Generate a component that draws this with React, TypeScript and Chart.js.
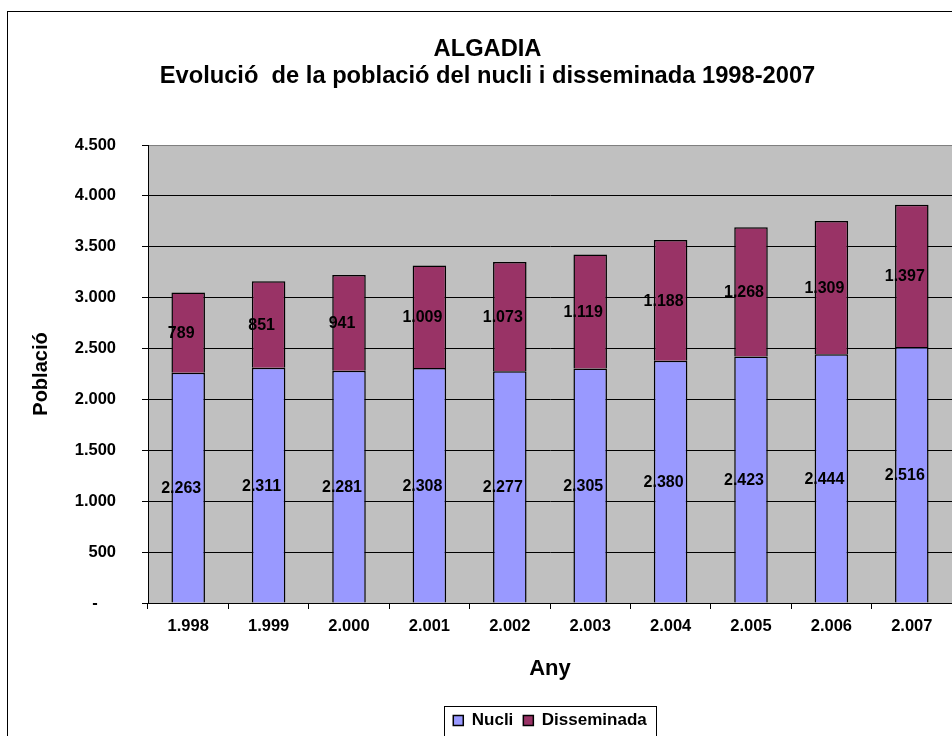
import React, { useEffect, useRef } from "react";
import { Chart, registerables } from "chart.js";

Chart.register(...registerables);

const years = ["1.998", "1.999", "2.000", "2.001", "2.002", "2.003", "2.004", "2.005", "2.006", "2.007"];
const nucli = [2263, 2311, 2281, 2308, 2277, 2305, 2380, 2423, 2444, 2516];
const disseminada = [789, 851, 941, 1009, 1073, 1119, 1188, 1268, 1309, 1397];
const yMin = 0;
const yMax = 4500;
const yStep = 500;
const titleLines = ["ALGADIA", "Evolució  de la població del nucli i disseminada 1998-2007"];
const yTitle = "Població";
const xTitle = "Any";
const seriesNames = ["Nucli", "Disseminada"];

const FONT = "'Liberation Sans', Arial, sans-serif";
const W = 975;
const H = 739;
const PAD_SIDE = 23;

function fmt(n: number): string {
  return Math.round(n).toString().replace(/\B(?=(\d{3})+(?!\d))/g, ".");
}

const framePlugin = {
  id: "frameBg",
  beforeDraw(chart: any) {
    const { ctx, chartArea } = chart;
    ctx.save();
    ctx.strokeStyle = "#000";
    ctx.lineWidth = 1;
    ctx.strokeRect(7.5, 11.5, chart.width - 15, chart.height + 20);
    ctx.fillStyle = "#C0C0C0";
    ctx.fillRect(chartArea.left, chartArea.top, chartArea.right - chartArea.left, chartArea.bottom - chartArea.top);
    ctx.strokeStyle = "#808080";
    ctx.strokeRect(chartArea.left + 0.5, chartArea.top + 0.5, chartArea.right - chartArea.left, chartArea.bottom - chartArea.top);
    ctx.restore();
  },
};

const labelPlugin = {
  id: "barLabels",
  afterDatasetsDraw(chart: any) {
    const { ctx } = chart;
    ctx.save();
    ctx.font = `bold 16px ${FONT}`;
    ctx.fillStyle = "#000";
    ctx.textAlign = "center";
    ctx.textBaseline = "middle";
    chart.data.datasets.forEach((ds: any, di: number) => {
      const meta = chart.getDatasetMeta(di);
      meta.data.forEach((bar: any, i: number) => {
        const p = bar.getProps(["x", "y", "base"], true);
        const cy = (p.y + p.base) / 2;
        ctx.fillText(fmt(ds.data[i]), p.x - 7, cy + 1);
      });
    });
    ctx.restore();
  },
};

const legendBoxPlugin = {
  id: "legendBox",
  afterDraw(chart: any) {
    const lg = chart.legend;
    if (!lg || !lg.legendHitBoxes || !lg.legendHitBoxes.length) return;
    const hb = lg.legendHitBoxes;
    const first = hb[0];
    const last = hb[hb.length - 1];
    const left = Math.round(first.left - 9) + 0.5;
    const right = Math.round(last.left + last.width + 9) + 0.5;
    const top = Math.round(first.top - 6) + 0.5;
    const { ctx } = chart;
    ctx.save();
    ctx.strokeStyle = "#000";
    ctx.lineWidth = 1;
    ctx.strokeRect(left, top, right - left, 60);
    ctx.restore();
  },
};

export default function App() {
  const ref = useRef<HTMLCanvasElement | null>(null);

  useEffect(() => {
    if (!ref.current) return;
    Chart.defaults.font.family = FONT;
    Chart.defaults.color = "#000";
    const chart = new Chart(ref.current, {
      type: "bar",
      data: {
        labels: years,
        datasets: [
          {
            label: seriesNames[0],
            data: nucli,
            backgroundColor: "#9999FF",
            borderColor: "#000",
            borderWidth: 1.5,
            stack: "s",
          },
          {
            label: seriesNames[1],
            data: disseminada,
            backgroundColor: "#993366",
            borderColor: "#000",
            borderWidth: 1.5,
            stack: "s",
          },
        ],
      },
      options: {
        animation: false,
        responsive: false,
        devicePixelRatio: 1,
        layout: { padding: { left: PAD_SIDE, right: PAD_SIDE, top: 0, bottom: 0 } },
        datasets: {
          bar: { categoryPercentage: 1, barPercentage: 0.417 },
        },
        plugins: {
          title: {
            display: true,
            text: titleLines,
            font: { size: 23.7, weight: "bold", lineHeight: 1.14 },
            color: "#000",
            padding: { top: 36, bottom: 55 },
          },
          legend: {
            display: true,
            position: "bottom",
            fullSize: false,
            labels: {
              boxWidth: 10,
              boxHeight: 10,
              padding: 10,
              color: "#000",
              font: { size: 17, weight: "bold" },
            },
          },
          tooltip: { enabled: false },
        },
        scales: {
          x: {
            stacked: true,
            grid: {
              display: true,
              drawOnChartArea: false,
              drawTicks: true,
              tickLength: 6,
              color: "#000",
              offset: true,
            },
            border: { display: true, color: "#000", width: 1 },
            ticks: {
              padding: 8,
              color: "#000",
              font: { size: 16.5, weight: "bold" },
              maxRotation: 0,
              autoSkip: false,
            },
            title: {
              display: true,
              text: xTitle,
              color: "#000",
              font: { size: 22, weight: "bold", lineHeight: 1.2 },
              padding: { top: 0, bottom: 20 },
            },
            afterFit: (s: any) => {
              s.height = 99;
            },
          },
          y: {
            stacked: true,
            min: yMin,
            max: yMax,
            grid: {
              color: (c: any) => (c.tick && c.tick.value === yMax ? "#808080" : "#000"),
              tickColor: "#000",
              tickLength: 6,
              lineWidth: 1,
            },
            border: { display: true, color: "#000", width: 1 },
            ticks: {
              stepSize: yStep,
              padding: 26,
              color: "#000",
              font: { size: 16.5, weight: "bold" },
              callback: (v: any) => (Number(v) === 0 ? "-    " : fmt(Number(v))),
            },
            title: {
              display: true,
              text: yTitle,
              color: "#000",
              font: { size: 20, weight: "bold", lineHeight: 1.2 },
              padding: { top: 29 - PAD_SIDE, bottom: 0 },
            },
            afterFit: (s: any) => {
              s.width = 148 - PAD_SIDE;
            },
          },
        },
      },
      plugins: [framePlugin, labelPlugin, legendBoxPlugin],
    } as any);
    return () => chart.destroy();
  }, []);

  return (
    <div style={{ position: "fixed", left: 0, top: 0, width: 952, height: 736, overflow: "hidden", background: "#fff" }}>
      <canvas ref={ref} width={W} height={H} style={{ display: "block", width: W, height: H }} />
    </div>
  );
}
